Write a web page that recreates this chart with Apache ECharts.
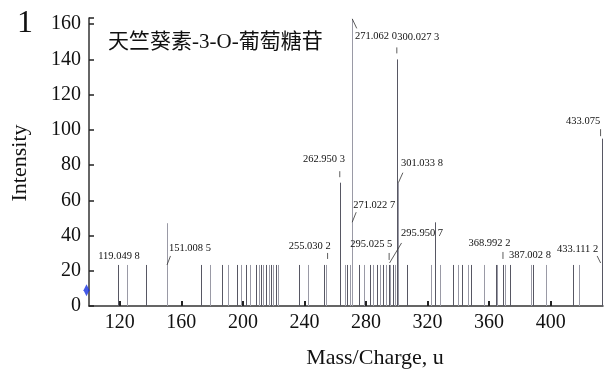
<!DOCTYPE html>
<html><head><meta charset="utf-8">
<script src="https://cdn.jsdelivr.net/npm/echarts@6/dist/echarts.min.js"></script>
<style>html,body{margin:0;padding:0;background:#fff}#c{width:606px;height:370px}</style>
</head><body><div id="c"></div>
<script>
// ---- data ----
const peakMz = [119.0,124.8,137.0,151.0,172.6,178.5,186.7,190.6,196.4,198.8,202.3,204.4,208.7,210.2,211.7,213.3,214.8,216.7,218.2,219.8,221.3,222.8,236.2,242.2,252.5,254.2,262.95,266.2,267.7,269.3,271.02,271.06,275.7,278.5,282.4,284.4,287.0,289.2,290.9,293.1,294.8,295.9,297.3,298.6,300.03,301.03,306.7,322.2,324.8,328.3,336.7,339.5,342.3,346.0,348.2,356.8,364.4,365.0,368.7,370.4,373.5,387.1,388.6,396.8,414.5,418.4,433.08];
const peakInt = [23.3,23.3,23.3,47,23.3,23.3,23.3,23.3,23.3,23.3,23.3,23.3,23.3,23.3,23.3,23.3,23.3,23.3,23.3,23.3,23.3,23.3,23.3,23.3,23.3,23.3,70,23.3,23.3,23.3,47,163,23.3,23.3,23.3,23.3,23.3,23.3,23.3,23.3,23.3,23.3,23.3,23.3,140,70,23.3,23.3,47.5,23.3,23.3,23.3,23.3,23.3,23.3,23.3,23.3,23.3,23.3,23.3,23.3,23.3,23.3,23.3,23.3,23.3,95];
const annoMz = [119.05,151.0085,255.0302,262.9503,271.062,300.0273,301.0338,271.0227,295.0255,295.9507,368.9922,387.0028,433.1112,433.075];
const annoInt = [23.3,23.3,23.3,70,163,140,70,47,23.3,23.3,23.3,23.3,23.3,95];
const annoText = ['119.049 8','151.008 5','255.030 2','262.950 3','271.062 0','300.027 3','301.033 8','271.022 7','295.025 5','295.950 7','368.992 2','387.002 8','433.111 2','433.075'];
const xTicks = [120,160,200,240,280,320,360,400];
const markerPoint = [[100, 8.9]];
const titleText = '天竺葵素-3-O-葡萄糖苷';
const panelText = '1';
const xTitle = 'Mass/Charge, u';
const yTitle = 'Intensity';

// ---- layout / style (not data) ----
// label offsets [dx, dy] of text centre from annotated point, and leader [x1,y1,x2,y2]
const labelOff = [[0.7,-9],[22.4,-16.3],[-17.9,-19],[-15.8,-23.6],[23.7,17.3],[21.5,-22.3],[23.6,-19.6],[22,-18.2],[-17.8,-20.7],[31.5,-31.7],[-13.5,-21.7],[-0.7,-10],[-24,-16],[-18.5,-17.6]];
const leaderOff = [null,[-0.5,0,3,-9],[0,-6,0,-12],[0,-5.5,0,-11.5],[0,0,4.5,9.5],[0,-6,0,-12],[0,0,4.5,-10],[0,-1,4,-11],[0,-5,0,-12],[-1,-2,11,-22],[0,-6,0,-13],null,[-1,-2,-4.5,-9],[-1,-2.5,-1,-9.5]];

const serif = 'Liberation Serif';
const peaks = peakMz.map((m, i) => [m, peakInt[i]]);
const annos = annoMz.map((m, i) => [m, annoInt[i], i]);

const chart = echarts.init(document.getElementById('c'), null, {renderer: 'canvas'});
chart.setOption({
  animation: false,
  backgroundColor: '#fff',
  grid: {left: 89, right: 3, top: 18, bottom: 64},
  xAxis: {
    type: 'value', min: 100, max: 434,
    axisLine: {lineStyle: {color: '#333', width: 1.5}},
    axisTick: {show: true, inside: true, length: 5, lineStyle: {color: '#222', width: 2}, customValues: xTicks},
    axisLabel: {customValues: xTicks, color: '#111', fontFamily: serif, fontSize: 20, margin: 7},
    splitLine: {show: false}
  },
  yAxis: {
    type: 'value', min: 0, max: 163.5, interval: 20,
    axisLine: {show: true, lineStyle: {color: '#333', width: 1.5}},
    axisTick: {show: true, inside: true, length: 5, lineStyle: {color: '#222', width: 1.5}},
    axisLabel: {color: '#111', fontFamily: serif, fontSize: 20, margin: 8,
      formatter: v => (v % 20 === 0 && v <= 160) ? String(v) : ''},
    splitLine: {show: false}
  },
  graphic: [
    {type: 'text', x: 25, y: 24, style: {text: panelText, font: '32px ' + serif, fill: '#111', textAlign: 'center', textVerticalAlign: 'middle'}},
    {type: 'text', x: 108, y: 42, style: {text: titleText, font: '21px "Liberation Serif", "Noto Sans CJK SC"', fill: '#111', textAlign: 'left', textVerticalAlign: 'middle'}},
    {type: 'text', x: 375, y: 358, style: {text: xTitle, font: '22px ' + serif, fill: '#111', textAlign: 'center', textVerticalAlign: 'middle'}},
    {type: 'text', x: 20, y: 163, rotation: Math.PI / 2, style: {text: yTitle, font: '22px ' + serif, fill: '#111', textAlign: 'center', textVerticalAlign: 'middle'}}
  ],
  series: [
    {
      type: 'custom', data: peaks, clip: false,
      renderItem: (params, api) => {
        const p0 = api.coord([api.value(0), 0]);
        const p1 = api.coord([api.value(0), api.value(1)]);
        const x = Math.round(p0[0]) + 0.5;
        return {type: 'line', shape: {x1: x, y1: p0[1], x2: x, y2: p1[1]},
          style: {stroke: params.dataIndex % 2 === 0 ? '#575763' : '#9a9aa6', lineWidth: 1}};
      }
    },
    {
      type: 'custom', data: annos, clip: false, z: 5,
      renderItem: (params, api) => {
        const i = api.value(2);
        const p = api.coord([api.value(0), api.value(1)]);
        const o = labelOff[i], l = leaderOff[i];
        const children = [{type: 'text', x: p[0] + o[0], y: p[1] + o[1],
          style: {text: annoText[i], font: '10.5px ' + serif, fill: '#111', textAlign: 'center', textVerticalAlign: 'middle'}}];
        if (l) children.push({type: 'line', shape: {x1: p[0] + l[0], y1: p[1] + l[1], x2: p[0] + l[2], y2: p[1] + l[3]},
          style: {stroke: '#333', lineWidth: 0.8}});
        return {type: 'group', children};
      }
    },
    {
      type: 'scatter', data: markerPoint, clip: false, symbol: 'diamond', symbolSize: [6, 12], symbolOffset: [-2.5, 0],
      itemStyle: {color: '#1530e0'}, z: 6
    }
  ]
});
</script></body></html>
